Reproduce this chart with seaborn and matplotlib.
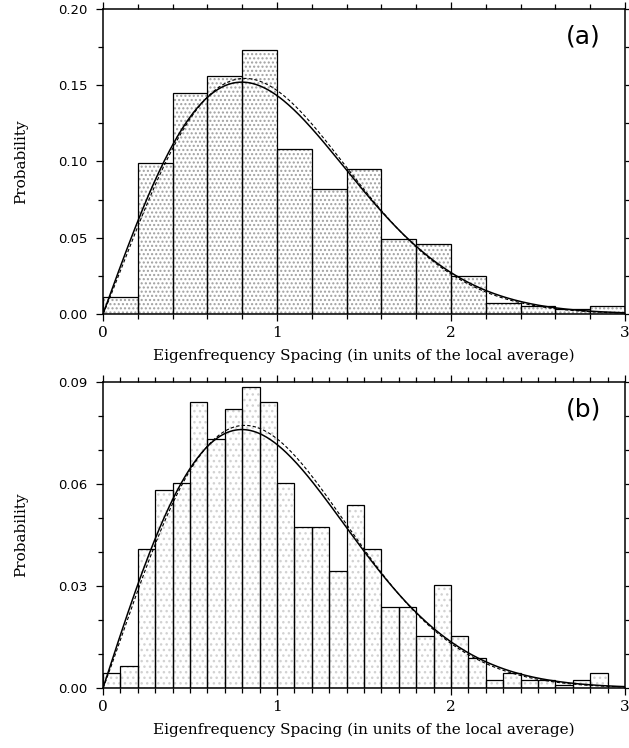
import numpy as np
import pandas as pd
import matplotlib
matplotlib.use("Agg")
import matplotlib.pyplot as plt
from matplotlib.ticker import MultipleLocator, FormatStrFormatter
import seaborn as sns

sns.set_theme(style="ticks")
plt.rcParams["font.family"] = ["DejaVu Sans"]

# Spacing histograms: probability per bin
bin_width_a = 0.2
prob_a = [0.011, 0.099, 0.145, 0.156, 0.173, 0.108, 0.082, 0.095,
          0.049, 0.046, 0.025, 0.007, 0.005, 0.0035, 0.0053]

bin_width_b = 0.1
prob_b = [0.0044, 0.0066, 0.0409, 0.0581, 0.0603, 0.0841, 0.0733, 0.0820,
          0.0885, 0.0841, 0.0603, 0.0474, 0.0474, 0.0344, 0.0538, 0.0409,
          0.0238, 0.0238, 0.0152, 0.0303, 0.0152, 0.0087, 0.0023, 0.0044,
          0.0023, 0.0023, 0.0010, 0.0023, 0.0044, 0.0]

# Reference distributions: Wigner surmise (solid) and Brody fit (dashed)
brody_beta = 1.05

panel_labels = ["(a)", "(b)"]
x_label = "Eigenfrequency Spacing (in units of the local average)"
y_label = "Probability"
y_limits = [0.20, 0.09]
y_major = [0.05, 0.03]
y_minor = [0.025, 0.01]


def wigner(s):
    return 0.5 * np.pi * s * np.exp(-0.25 * np.pi * s ** 2)


def brody(s, beta):
    from math import gamma
    b = gamma((beta + 2.0) / (beta + 1.0)) ** (beta + 1.0)
    return (beta + 1.0) * b * s ** beta * np.exp(-b * s ** (beta + 1.0))


W, H = 629, 748
fig = plt.figure(figsize=(W / 100, H / 100), dpi=100)
ax_a = fig.add_axes([103 / W, 1 - 314 / H, 522 / W, 305 / H])
ax_b = fig.add_axes([103 / W, 1 - 688 / H, 522 / W, 306 / H])

serif = ["DejaVu Serif"]

panels = [
    (ax_a, prob_a, bin_width_a, "#a0a0a0", "...."),
    (ax_b, prob_b, bin_width_b, "#d2d2d2", "..."),
]

for i, (ax, probs, bw, hatch_col, hatch) in enumerate(panels):
    n = len(probs)
    centers = (np.arange(n) + 0.5) * bw
    df = pd.DataFrame({"s": centers, "p": probs})
    hist_kw = dict(data=df, x="s", weights="p", binwidth=bw,
                   binrange=(0, n * bw), stat="count", ax=ax)

    # stippled fill
    sns.histplot(**hist_kw, color="white", alpha=1.0, edgecolor=hatch_col,
                 linewidth=0)
    for patch in ax.patches:
        patch.set_hatch(hatch)
    # bar outlines
    sns.histplot(**hist_kw, fill=False, color="black", edgecolor="black",
                 linewidth=0.9)

    s = np.linspace(0, 3, 400)
    curves = pd.DataFrame({"s": s,
                           "wig": bw * wigner(s),
                           "bro": bw * brody(s, brody_beta)})
    sns.lineplot(data=curves, x="s", y="bro", ax=ax, color="black",
                 linewidth=0.8, linestyle=(0, (3, 2)))
    sns.lineplot(data=curves, x="s", y="wig", ax=ax, color="black",
                 linewidth=1.1)

    ax.set_xlim(0, 3)
    ax.set_ylim(0, y_limits[i])
    ax.xaxis.set_major_locator(MultipleLocator(1))
    ax.xaxis.set_minor_locator(MultipleLocator(bw))
    ax.yaxis.set_major_locator(MultipleLocator(y_major[i]))
    ax.yaxis.set_minor_locator(MultipleLocator(y_minor[i]))
    ax.yaxis.set_major_formatter(FormatStrFormatter("%.2f"))
    ax.tick_params(which="both", direction="out", top=True, right=True,
                   color="black", width=0.9, labelcolor="black")
    ax.tick_params(which="major", length=5, labelsize=9.5)
    ax.tick_params(axis="y", which="major", pad=6)
    ax.tick_params(which="minor", length=3.5)
    for lab in ax.get_xticklabels():
        lab.set_family(serif)
        lab.set_fontsize(11)
    for sp in ax.spines.values():
        sp.set_visible(True)
        sp.set_color("black")
        sp.set_linewidth(1.1)

    ax.set_xlabel(x_label, family=serif, fontsize=11, labelpad=6,
                  color="black")
    ax.set_ylabel(y_label, family=serif, fontsize=11, labelpad=22,
                  color="black")
    ax.text(0.92, 0.91, panel_labels[i], transform=ax.transAxes,
            ha="center", va="center", fontsize=18, color="black")

fig.savefig("out.png", dpi=100)
